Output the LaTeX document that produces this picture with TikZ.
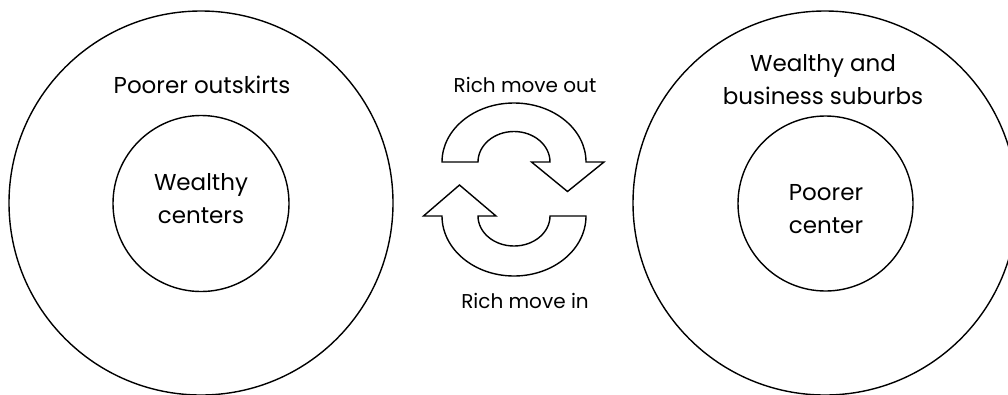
\documentclass[tikz,border=0pt]{standalone}
\usepackage{fontspec}
\setmainfont{Poppins}
\begin{document}
\begin{tikzpicture}[x=1pt,y=1pt,line width=1.4pt,
  ring/.style={circle,draw,inner sep=0pt},
  bigtxt/.style={inner sep=0pt,align=center,font=\fontsize{23}{33}\selectfont},
  smalltxt/.style={inner sep=0pt,font=\fontsize{20}{24}\selectfont},
  cyc/.style={draw,line join=miter,fill=white}]
\useasboundingbox (0,0) rectangle (1008,-394);
\clip (0,0) rectangle (1008,-394);
% left rings
\node[ring,minimum size=384pt] (Lout) at (201,-203) {};
\node[ring,minimum size=176pt] (Lin) at (201,-203.5) {};
% right rings
\node[ring,minimum size=384pt] (Rout) at (825,-203) {};
\node[ring,minimum size=175pt] (Rin) at (825.5,-203.5) {};
% labels
\node[bigtxt,anchor=base] (Lt) at (202,-93.5) {Poorer outskirts};
\node[bigtxt] (Lc) at (201,-199) {Wealthy\\centers};
\node[bigtxt] (Rt) at (823,-79.5) {Wealthy and\\business suburbs};
\node[bigtxt] (Rc) at (826,-209) {Poorer\\center};
\node[smalltxt,anchor=base] (Mo) at (525,-92.5) {Rich move out};
\node[smalltxt,anchor=base] (Mi) at (525,-308.5) {Rich move in};
% cycle arrows
\draw[cyc] (442,-162) arc[start angle=180,end angle=0,x radius=72,y radius=59]
  -- (604,-162) -- (567.5,-191.5) -- (531.5,-162) -- (550,-162)
  arc[start angle=0,end angle=180,x radius=36,y radius=30.5] -- cycle;
\draw[cyc] (586,-216) arc[start angle=0,end angle=-180,x radius=72,y radius=60]
  -- (423.5,-216) -- (459.5,-185) -- (496,-216) -- (478,-216)
  arc[start angle=180,end angle=360,x radius=36,y radius=30] -- cycle;
\end{tikzpicture}
\end{document}
